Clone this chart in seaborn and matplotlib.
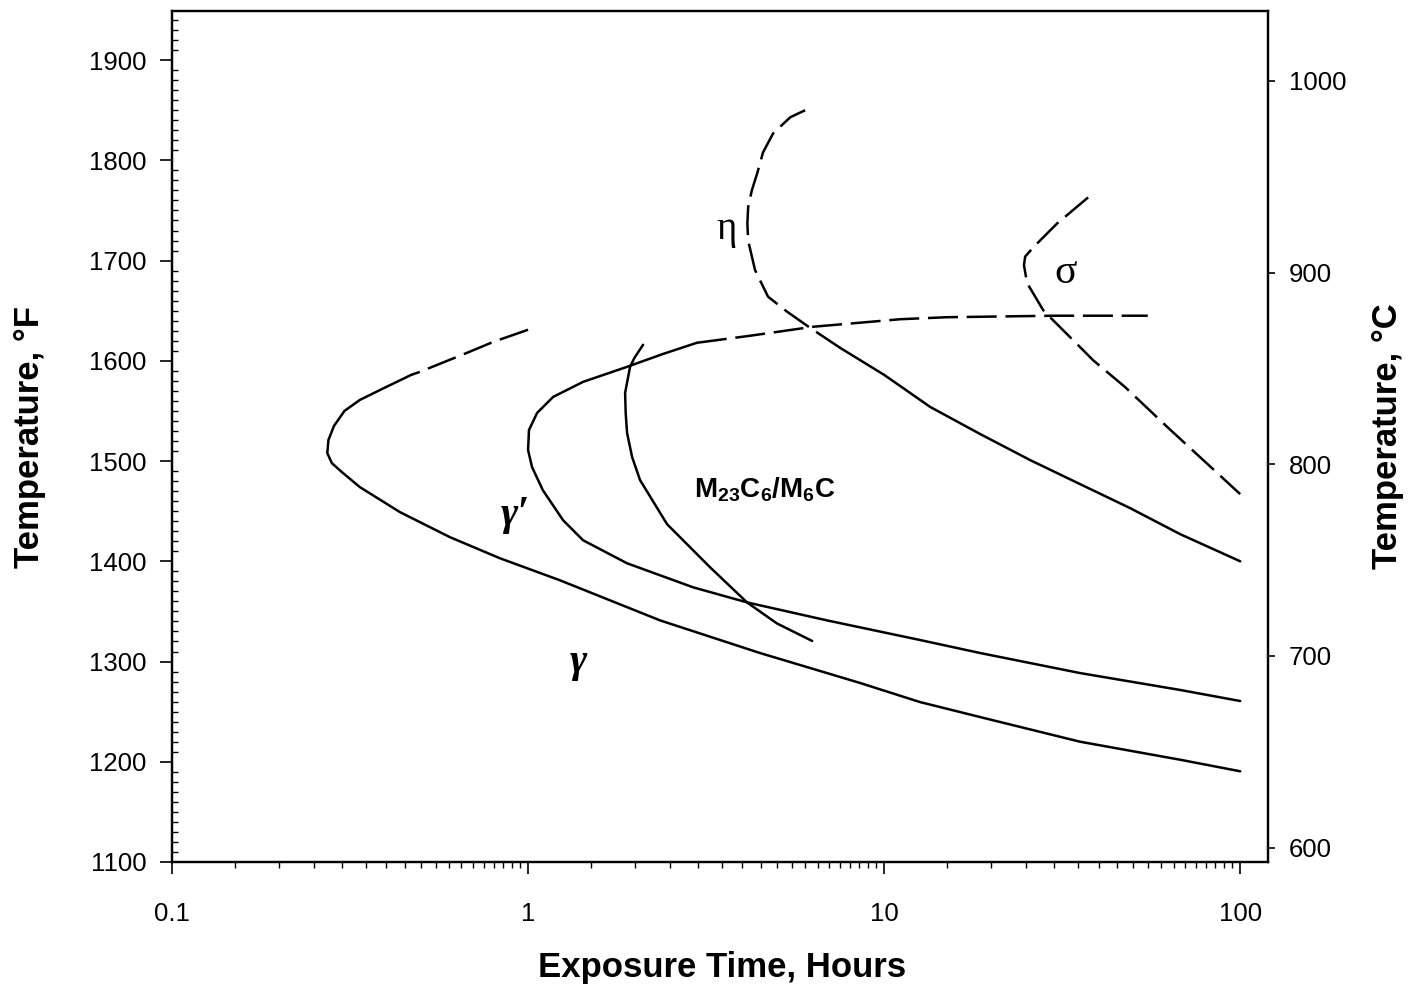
import numpy as np
import pandas as pd
import matplotlib
matplotlib.use("Agg")
import matplotlib.pyplot as plt
from matplotlib.ticker import LogLocator, NullFormatter, FixedLocator, FixedFormatter
import seaborn as sns

# ---------------- data (time in hours, temperature in °F) ----------------
gp_dash_t = [1.0, 0.80, 0.674, 0.497, 0.47]
gp_dash_T = [1631, 1619, 1608, 1589, 1586]
gp_solid_t = [0.47, 0.40, 0.337, 0.305, 0.285, 0.275, 0.273, 0.281, 0.30, 0.337, 0.437,
              0.604, 0.834, 1.23, 2.35, 4.48, 8.56, 12.6, 18.6, 35.5, 67.9, 100]
gp_solid_T = [1586, 1574, 1561, 1550, 1535, 1521, 1508, 1498, 1489, 1474, 1449,
              1424, 1403, 1381, 1341, 1308.5, 1278.6, 1259.6, 1244.6, 1220, 1202, 1190.5]

gpp_solid_t = [2.98, 2.4, 1.897, 1.427, 1.176, 1.06, 1.006, 1.0, 1.026, 1.10, 1.254,
               1.427, 1.897, 2.91, 4.12, 6.92, 12.6, 18.6, 35.5, 67.9, 100]
gpp_solid_T = [1618, 1607, 1594, 1579, 1564, 1548, 1531, 1511, 1494, 1471, 1441,
               1421, 1398, 1374, 1359, 1341, 1321.5, 1308.5, 1288.5, 1271.6, 1260.6]
gpp_dash_t = [2.98, 4.2, 6.32, 11.1, 15.0, 30.0, 55.0]
gpp_dash_T = [1618, 1625, 1634, 1641.5, 1643.5, 1645, 1645]

carb_t = [2.104, 1.99, 1.934, 1.873, 1.88, 1.897, 1.96, 2.063, 2.457, 2.725, 3.245,
          4.12, 5.0, 6.28]
carb_T = [1616, 1603, 1594, 1568, 1548, 1528, 1504, 1481, 1437, 1421, 1394,
          1359, 1338, 1320.5]

eta_dash_t = [6.0, 5.45, 4.88, 4.57, 4.40, 4.25, 4.15, 4.13, 4.15, 4.34, 4.72, 5.34,
              6.19, 7.52]
eta_dash_T = [1850, 1843, 1827, 1808, 1787, 1770, 1753, 1737, 1720, 1690.5, 1664, 1649,
              1633, 1613]
eta_solid_t = [7.52, 10.0, 13.47, 18.6, 25.7, 35.5, 49.1, 67.9, 100]
eta_solid_T = [1613, 1586, 1554, 1527, 1501, 1477, 1453, 1427, 1400]

sig_t = [37.4, 30.6, 26.2, 24.9, 24.7, 25.2, 27.97, 29.8, 36.2, 38.6, 47.5, 62.4, 100]
sig_T = [1763, 1737, 1713, 1704, 1695.5, 1677.6, 1650.6, 1640.6, 1610.7, 1600.7, 1573.8,
         1534, 1467]

x_major = [0.1, 1, 10, 100]
x_major_labels = ["0.1", "1", "10", "100"]
yF_major = [1100, 1200, 1300, 1400, 1500, 1600, 1700, 1800, 1900]
yC_major = [600, 700, 800, 900, 1000]

# ---------------- style ----------------
sns.set_style("ticks")
plt.rcParams["font.family"] = ["Liberation Sans", "DejaVu Sans"]
plt.rcParams["mathtext.fontset"] = "custom"
plt.rcParams["mathtext.rm"] = "Liberation Sans:bold"
plt.rcParams["mathtext.it"] = "Liberation Sans:bold"
plt.rcParams["mathtext.bf"] = "Liberation Sans:bold"
for k in ["text.color", "axes.labelcolor", "xtick.color", "ytick.color", "axes.edgecolor"]:
    plt.rcParams[k] = "black"

fig = plt.figure(figsize=(14.23, 9.92), dpi=100)
ax = fig.add_axes([172 / 1423, 1 - 862 / 992, (1268 - 172) / 1423, (862 - 11) / 992])
ax.set_xscale("log")

LW = 1.8
DASH = (0, (12, 3.5))

def draw(t, T, dashed=False):
    df = pd.DataFrame({"time": t, "temp": T})
    kw = dict(linestyle=DASH) if dashed else {}
    sns.lineplot(data=df, x="time", y="temp", sort=False, estimator=None,
                 color="black", linewidth=LW, ax=ax, legend=False, **kw)

draw(gp_dash_t, gp_dash_T, dashed=True)
draw(gp_solid_t, gp_solid_T)
draw(gpp_solid_t, gpp_solid_T)
draw(gpp_dash_t, gpp_dash_T, dashed=True)
draw(carb_t, carb_T)
draw(eta_dash_t, eta_dash_T, dashed=True)
draw(eta_solid_t, eta_solid_T)
draw(sig_t, sig_T, dashed=True)

ax.set_xlim(0.1, 119.7)
ax.set_ylim(1100, 1949)

ax.xaxis.set_major_locator(FixedLocator(x_major))
ax.xaxis.set_major_formatter(FixedFormatter(x_major_labels))
ax.xaxis.set_minor_locator(LogLocator(base=10, subs=np.arange(1.5, 10, 0.5)))
ax.xaxis.set_minor_formatter(NullFormatter())
ax.yaxis.set_major_locator(FixedLocator(yF_major))
ax.yaxis.set_minor_locator(FixedLocator(np.arange(1100, 1950, 10)))

ax.tick_params(axis="x", which="major", direction="out", length=8.5, width=1.2,
               labelsize=18.5, pad=20, top=False, bottom=True)
ax.tick_params(axis="x", which="minor", direction="out", length=4.5, width=1.0,
               top=False, bottom=True)
ax.tick_params(axis="y", which="major", direction="out", length=8.5, width=1.2,
               labelsize=18.5, pad=10, right=False, left=True)
ax.tick_params(axis="y", which="minor", direction="in", length=4.5, width=1.0,
               right=False, left=True)
for s in ax.spines.values():
    s.set_linewidth(1.6)
    s.set_color("black")

ax.set_xlabel("Exposure Time, Hours", fontsize=25, fontweight="bold")
ax.set_ylabel("Temperature, °F", fontsize=25, fontweight="bold")
ax.xaxis.label.set_va("center")
ax.yaxis.label.set_va("center")
ax.xaxis.set_label_coords((722 - 172) / 1096, (862 - 968) / 851)
ax.yaxis.set_label_coords((30 - 172) / 1096, 0.5)

ax2 = ax.twinx()
ax2.set_ylim(592.5, 1036.5)
ax2.yaxis.set_major_locator(FixedLocator(yC_major))
ax2.tick_params(axis="y", which="major", direction="out", length=5, width=1.2,
                labelsize=18.5, pad=10)
ax2.tick_params(axis="y", which="minor", right=False, left=False)
for s in ax2.spines.values():
    s.set_linewidth(1.6)
    s.set_color("black")
ax2.set_ylabel("Temperature, °C", fontsize=25, fontweight="bold")
ax2.yaxis.label.set_va("center")
ax2.yaxis.set_label_coords((1388 - 172) / 1096, 0.5)

# ---------------- phase labels ----------------
serif = ["Liberation Serif", "DejaVu Serif"]
ax.text(3.62, 1731, "η", fontsize=28, family=serif, ha="center", va="center")
ax.text(32.4, 1688, "σ", fontsize=30, family=serif, ha="center", va="center")
ax.text(0.919, 1446, "γ′", fontsize=30, family=serif, style="italic",
        fontweight="bold", ha="center", va="center")
ax.text(1.382, 1300, "γ", fontsize=30, family=serif, style="italic",
        fontweight="bold", ha="center", va="center")
ax.text(4.63, 1471, r"$\mathrm{M_{23}C_6/M_6C}$", fontsize=20, ha="center", va="center")

fig.savefig("out.png", dpi=100)
